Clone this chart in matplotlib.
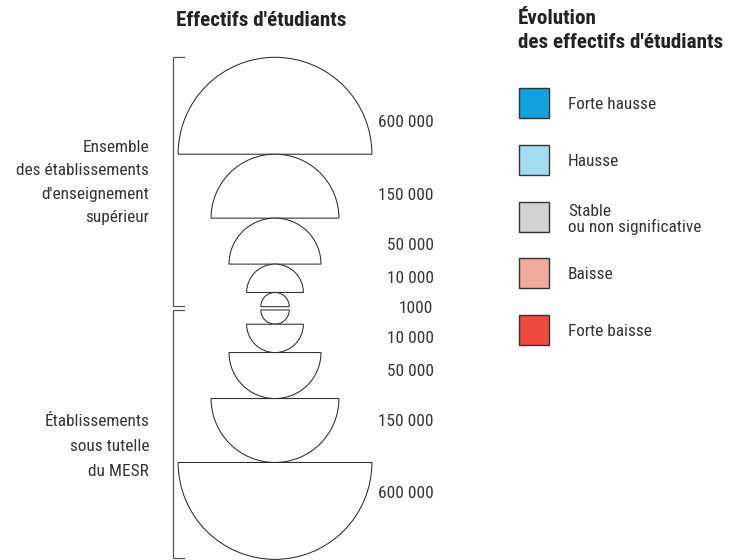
import matplotlib.pyplot as plt
from matplotlib.patches import Wedge, Rectangle

# sizes (number of students) shown in the proportional-symbol key
sizes_top = [600000, 150000, 50000, 10000, 1000]
sizes_bottom = [1000, 10000, 50000, 150000, 600000]
size_labels = {600000: "600 000", 150000: "150 000", 50000: "50 000",
               10000: "10 000", 1000: "1000"}

group_top = ["Ensemble", "des établissements", "d'enseignement", "supérieur"]
group_bottom = ["Établissements", "sous tutelle", "du MESR"]

classes = ["Forte hausse", "Hausse", "Stable\nou non significative",
           "Baisse", "Forte baisse"]
class_colors = ["#12a2df", "#a3dcf0", "#d1d2d4", "#f0a99b", "#ee4a3d"]

plt.rcParams["font.family"] = ["Roboto Condensed", "DejaVu Sans"]


def radius(v):
    return 1.79 * v ** 0.3


fig = plt.figure(figsize=(7.43, 5.60), dpi=100)
ax = fig.add_axes([0, 0, 1, 1])
ax.set_xlim(0, 743)
ax.set_ylim(560, 0)
ax.axis("off")

cx = 275
edge = "#2b2b2b"
txt = "#333333"
fs = 12.4
fs_title = 15.2

# upper half: domes stacked downwards
y = 57.3
for v in sizes_top:
    r = radius(v)
    base = y + r
    ax.add_patch(Wedge((cx, base), r, 180, 360, facecolor="white",
                       edgecolor=edge, lw=0.75))
    if v == 1000:
        ax.text(433, base + 1.5, size_labels[v], ha="right", va="center",
                fontsize=fs, color=txt)
    else:
        ax.text(434, base - (0.25 * r + 7), size_labels[v], ha="right",
                va="center", fontsize=fs, color=txt)
    y = base
top_end = y

# lower half: bowls
y = top_end + 3.3
bottom_start = y
for v in sizes_bottom:
    r = radius(v)
    ax.add_patch(Wedge((cx, y), r, 0, 180, facecolor="white",
                       edgecolor=edge, lw=0.75))
    if v != 1000:
        ax.text(434, y + (0.25 * r + 7), size_labels[v], ha="right",
                va="center", fontsize=fs, color=txt)
    y = y + r
bottom_end = y

# brackets
bc = "#555555"
for y0, y1 in [(57.3, top_end - 0.5), (bottom_start + 0.5, min(bottom_end, 558))]:
    ax.plot([184, 173, 173, 184], [y0, y0, y1, y1], color=bc, lw=0.9,
            solid_joinstyle="miter")

for i, s in enumerate(group_top):
    ax.text(149, 147 + i * 23.5, s, ha="right", va="center", fontsize=fs,
            color=txt)
for i, s in enumerate(group_bottom):
    ax.text(149, 422 + i * 24.5, s, ha="right", va="center", fontsize=fs,
            color=txt)

# titles
ax.text(261, 20, "Effectifs d'étudiants", ha="center", va="center",
        fontsize=fs_title, fontweight="bold", color="#222222")
ax.text(518, 18, "Évolution", ha="left", va="center", fontsize=fs_title,
        fontweight="bold", color="#222222")
ax.text(518, 42, "des effectifs d'étudiants", ha="left", va="center",
        fontsize=fs_title, fontweight="bold", color="#222222")

# colour key
for i, (lab, col) in enumerate(zip(classes, class_colors)):
    top = 88.3 + i * 56.7
    ax.add_patch(Rectangle((519, top), 30, 30, facecolor=col,
                           edgecolor="#333333", lw=1.0))
    ax.text(568, top + 16 if "\n" not in lab else top + 17.5, lab, ha="left",
            va="center", fontsize=fs, color=txt, linespacing=1.0)

fig.savefig("out.png", dpi=100)
